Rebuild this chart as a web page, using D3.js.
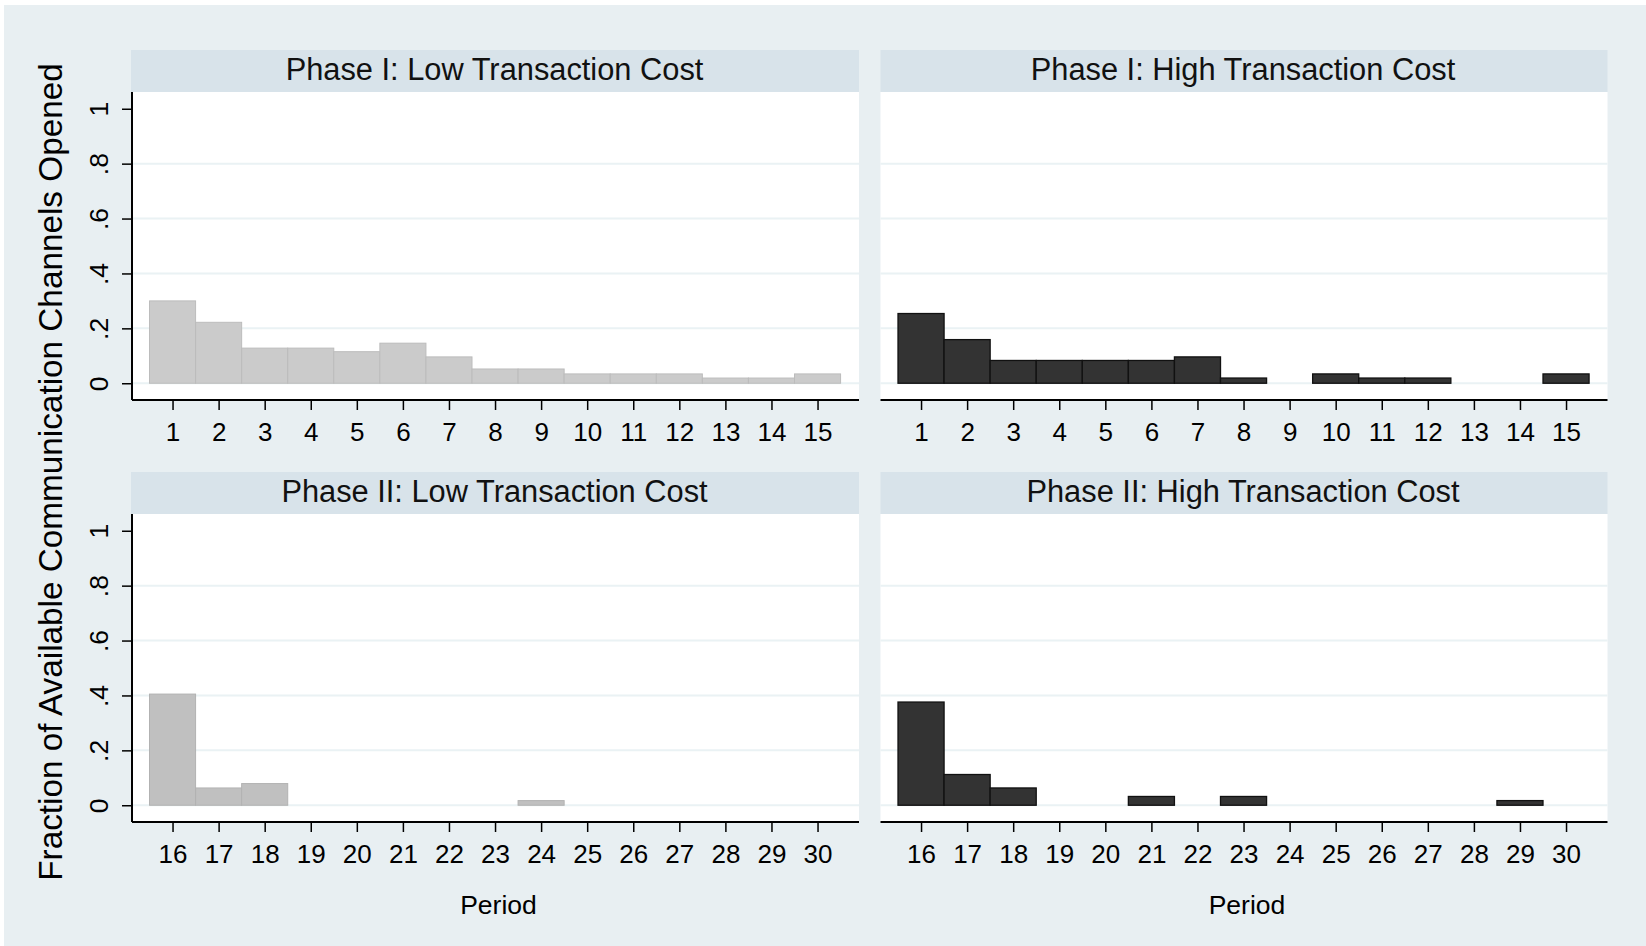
<!DOCTYPE html>
<html>
<head>
<meta charset="utf-8">
<script src="https://cdn.jsdelivr.net/npm/d3@7"></script>
<style>
  html, body { margin: 0; padding: 0; background: #ffffff; }
  svg { display: block; font-family: "Liberation Sans", Arial, Helvetica, sans-serif; }
</style>
</head>
<body>
<svg id="chart" width="1646" height="946"></svg>
<script>
// Periods shown on each row of panels
const periodsPhase1 = [1, 2, 3, 4, 5, 6, 7, 8, 9, 10, 11, 12, 13, 14, 15];
const periodsPhase2 = [16, 17, 18, 19, 20, 21, 22, 23, 24, 25, 26, 27, 28, 29, 30];

// Fraction of available communication channels opened, per period
const phase1Low  = [0.300, 0.222, 0.128, 0.128, 0.115, 0.146, 0.096, 0.052, 0.052, 0.034, 0.034, 0.034, 0.019, 0.019, 0.034];
const phase1High = [0.254, 0.159, 0.083, 0.083, 0.083, 0.083, 0.096, 0.019, 0.000, 0.034, 0.019, 0.019, 0.000, 0.000, 0.034];
const phase2Low  = [0.405, 0.063, 0.079, 0.000, 0.000, 0.000, 0.000, 0.000, 0.017, 0.000, 0.000, 0.000, 0.000, 0.000, 0.000];
const phase2High = [0.376, 0.112, 0.063, 0.000, 0.000, 0.032, 0.000, 0.032, 0.000, 0.000, 0.000, 0.000, 0.000, 0.017, 0.000];

const yTicks = [0, 0.2, 0.4, 0.6, 0.8, 1];
const yTickLabels = ["0", ".2", ".4", ".6", ".8", "1"];

const panelTitles = [
  "Phase I: Low Transaction Cost",
  "Phase I: High Transaction Cost",
  "Phase II: Low Transaction Cost",
  "Phase II: High Transaction Cost"
];
const yAxisTitle = "Fraction of Available Communication Channels Opened";
const xAxisTitle = "Period";

const svg = d3.select("#chart");

// Graph region background
svg.append("rect")
  .attr("x", 4).attr("y", 5)
  .attr("width", 1642).attr("height", 941)
  .attr("fill", "#e8eff2");

const colLeft  = { x0: 132, x1: 859 };
const colRight = { x0: 880.5, x1: 1607.5 };
const rowTop    = { stripTop: 50, y0: 92,  y1: 400 };
const rowBottom = { stripTop: 472, y0: 514, y1: 822 };

const panels = [
  { col: colLeft,  row: rowTop,    periods: periodsPhase1, values: phase1Low,  title: panelTitles[0], light: true,  yAxis: true,  xTitle: false },
  { col: colRight, row: rowTop,    periods: periodsPhase1, values: phase1High, title: panelTitles[1], light: false, yAxis: false, xTitle: false },
  { col: colLeft,  row: rowBottom, periods: periodsPhase2, values: phase2Low,  title: panelTitles[2], light: true,  yAxis: true,  xTitle: true, dimmer: true },
  { col: colRight, row: rowBottom, periods: periodsPhase2, values: phase2High, title: panelTitles[3], light: false, yAxis: false, xTitle: true }
];

panels.forEach(p => {
  const g = svg.append("g");
  const first = p.periods[0];
  const last = p.periods[p.periods.length - 1];

  const x = d3.scaleLinear()
    .domain([first - 0.88, last + 0.9])
    .range([p.col.x0, p.col.x1]);
  const y = d3.scaleLinear()
    .domain([-0.061, 1.061])
    .range([p.row.y1, p.row.y0]);

  // Title strip
  g.append("rect")
    .attr("x", p.col.x0 - (p.yAxis ? 1 : 0))
    .attr("y", p.row.stripTop)
    .attr("width", p.col.x1 - p.col.x0 + (p.yAxis ? 1 : 0))
    .attr("height", p.row.y0 - p.row.stripTop)
    .attr("fill", "#d8e3ea");
  g.append("text")
    .attr("x", (p.col.x0 + p.col.x1) / 2 - 1)
    .attr("y", p.row.stripTop + 30)
    .attr("text-anchor", "middle")
    .attr("font-size", 30.8)
    .attr("fill", "#111")
    .text(p.title);

  // Plot region
  g.append("rect")
    .attr("x", p.col.x0).attr("y", p.row.y0)
    .attr("width", p.col.x1 - p.col.x0)
    .attr("height", p.row.y1 - p.row.y0)
    .attr("fill", "#ffffff");

  // Horizontal grid lines (none at the top tick)
  g.selectAll("line.grid")
    .data(yTicks.filter(t => t < 1))
    .join("line")
    .attr("class", "grid")
    .attr("x1", p.col.x0).attr("x2", p.col.x1)
    .attr("y1", d => y(d)).attr("y2", d => y(d))
    .attr("stroke", "#eaf2f4")
    .attr("stroke-width", 2);

  // Bars, one period wide, centred on each period
  const bars = p.periods.map((per, i) => ({ per, v: p.values[i] })).filter(d => d.v > 0);
  g.selectAll("rect.bar")
    .data(bars)
    .join("rect")
    .attr("class", "bar")
    .attr("x", d => x(d.per - 0.5))
    .attr("width", d => x(d.per + 0.5) - x(d.per - 0.5))
    .attr("y", d => y(d.v))
    .attr("height", d => y(0) - y(d.v))
    .attr("fill", p.light ? (p.dimmer ? "#c0c0c0" : "#cbcbcb") : "#333333")
    .attr("stroke", p.light ? (p.dimmer ? "#b2b2b2" : "#bcbcbc") : "#111111")
    .attr("stroke-width", p.light ? 1 : 1.3);

  // X axis
  const xAxis = d3.axisBottom(x)
    .tickValues(p.periods)
    .tickFormat(d3.format("d"))
    .tickSize(10)
    .tickSizeOuter(0)
    .tickPadding(10);
  const gx = g.append("g")
    .attr("transform", `translate(0,${p.row.y1})`)
    .call(xAxis);
  gx.select(".domain").attr("stroke", "#000").attr("stroke-width", 2)
    .attr("d", `M${p.col.x0},0H${p.col.x1}`);
  gx.selectAll(".tick line").attr("stroke", "#000").attr("stroke-width", 1.5);
  gx.selectAll(".tick text")
    .attr("font-size", 26)
    .attr("font-family", "Liberation Sans, Arial, sans-serif")
    .attr("fill", "#000")
    .attr("dy", null)
    .attr("y", 41);

  // Y axis (left column only)
  if (p.yAxis) {
    const yAxis = d3.axisLeft(y)
      .tickValues(yTicks)
      .tickFormat((d, i) => yTickLabels[i])
      .tickSize(10)
      .tickSizeOuter(0);
    const gy = g.append("g")
      .attr("transform", `translate(${p.col.x0},0)`)
      .call(yAxis);
    gy.select(".domain").attr("stroke", "#000").attr("stroke-width", 2)
      .attr("d", `M0,${p.row.y0}V${p.row.y1}`);
    gy.selectAll(".tick line").attr("stroke", "#000").attr("stroke-width", 1.5);
    gy.selectAll(".tick text")
      .attr("font-size", 26.5)
      .attr("font-family", "Liberation Sans, Arial, sans-serif")
      .attr("fill", "#000")
      .attr("x", null).attr("dy", null)
      .attr("text-anchor", "middle")
      .attr("transform", "translate(-24,0) rotate(-90)");
  }

  if (p.xTitle) {
    g.append("text")
      .attr("x", (p.col.x0 + p.col.x1) / 2 + 3)
      .attr("y", 914)
      .attr("text-anchor", "middle")
      .attr("font-size", 26.5)
      .attr("fill", "#000")
      .text(xAxisTitle);
  }
});

// Shared y-axis title
svg.append("text")
  .attr("transform", "translate(62,472) rotate(-90)")
  .attr("text-anchor", "middle")
  .attr("font-size", 33.3)
  .attr("fill", "#000")
  .text(yAxisTitle);
</script>
</body>
</html>
